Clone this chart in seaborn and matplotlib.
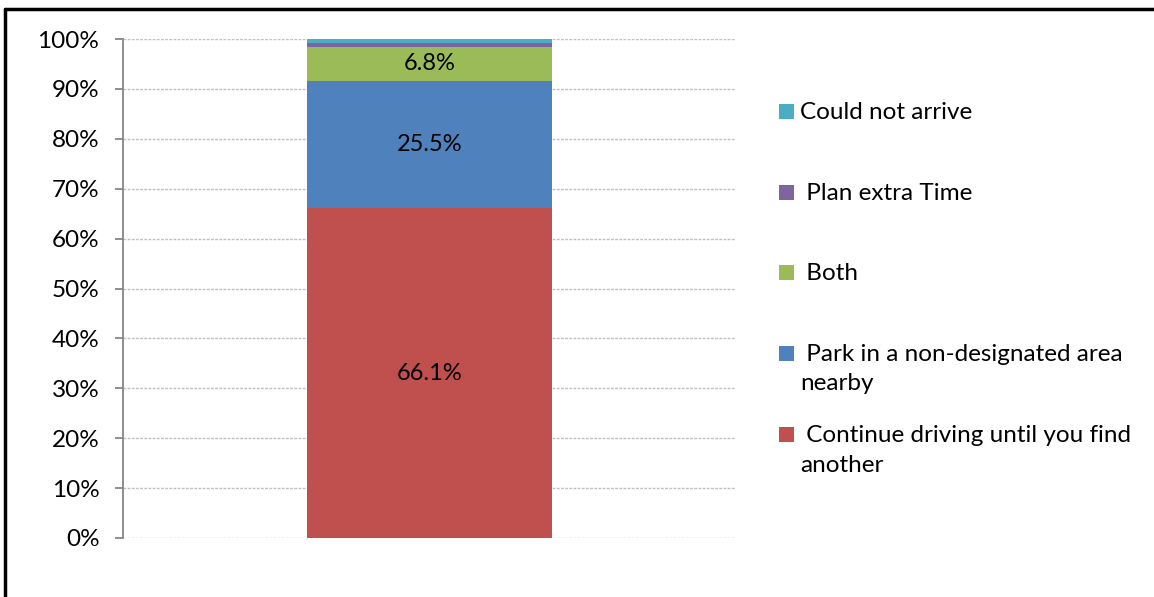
import matplotlib
matplotlib.use("Agg")
import matplotlib.pyplot as plt
from matplotlib.lines import Line2D
from matplotlib.patches import Rectangle
import numpy as np
import pandas as pd
import seaborn as sns

# Survey responses: what drivers do when the parking spot is taken (share of answers, %)
categories = [
    "Continue driving until you find another",
    "Park in a non-designated area nearby",
    "Both",
    "Plan extra Time",
    "Could not arrive",
]
values = [66.1, 25.5, 6.8, 0.7, 0.9]
colors = ["#C0504D", "#4F81BD", "#9BBB59", "#8064A2", "#4BACC6"]
legend_labels = [
    " Continue driving until you find\nanother",
    " Park in a non-designated area\nnearby",
    " Both",
    " Plan extra Time",
    "Could not arrive",
]
shown_labels = [True, True, True, False, False]
yticks = [0, 10, 20, 30, 40, 50, 60, 70, 80, 90, 100]

sns.set_style("white")
plt.rcParams["font.family"] = ["Lato", "DejaVu Sans"]

W, H = 1154, 597
fig = plt.figure(figsize=(W / 100, H / 100), dpi=100)
ax = fig.add_axes([123 / W, 1 - 538 / H, (736 - 123) / W, (538 - 39) / H])

cum = np.cumsum(values)
df = pd.DataFrame({"group": ["all"] * len(values), "top": cum, "series": categories})

# stacked bar: draw cumulative heights from the tallest down so each segment shows
for i in range(len(values) - 1, -1, -1):
    sns.barplot(data=df.iloc[[i]], x="group", y="top", color=colors[i],
                width=0.4, saturation=1, linewidth=0, edgecolor="none",
                ax=ax, zorder=3)

bottoms = np.concatenate([[0], cum[:-1]])
for v, b, show in zip(values, bottoms, shown_labels):
    if show:
        ax.text(0, b + v / 2, f"{v:.1f}%", ha="center", va="center",
                fontsize=17, color="black", zorder=4)

ax.set_xlim(-0.5, 0.5)
ax.set_ylim(0, 100)
ax.set_yticks(yticks)
ax.set_yticklabels([f"{t}%" for t in yticks], fontsize=17.5)
ax.set_xticks([])
ax.set_xlabel("")
ax.set_ylabel("")
ax.yaxis.grid(True, color="#c0c0c0", linestyle=(0, (2, 1)), linewidth=1, zorder=0)
ax.set_axisbelow(True)
for s in ["top", "right", "bottom"]:
    ax.spines[s].set_visible(False)
ax.spines["left"].set_color("#868686")
ax.spines["left"].set_linewidth(1.3)
ax.tick_params(axis="y", which="major", left=True, length=6, width=1.3,
               color="#868686", pad=11, labelcolor="black")

# legend drawn beside the plot, one entry per series, top entry first
entry_y = [433, 352, 271, 191, 110]
for lab, col, yc in zip(legend_labels, colors, entry_y):
    fig.add_artist(Rectangle((779 / W, 1 - (yc + 9) / H), 15 / W, 15 / H,
                             transform=fig.transFigure, facecolor=col, edgecolor="none"))
    fig.text(800 / W, 1 - (yc - 8) / H, lab, ha="left", va="top",
             fontsize=17.5, linespacing=1.5, color="black")

# frame lines along the top and left edge
fig.add_artist(Line2D([5 / W, 1], [1 - 8.5 / H, 1 - 8.5 / H],
                      transform=fig.transFigure, color="black", linewidth=2.5))
fig.add_artist(Line2D([5 / W, 5 / W], [0, 1 - 8.5 / H],
                      transform=fig.transFigure, color="black", linewidth=2.5))

fig.savefig("out.png", dpi=100, facecolor="white")
